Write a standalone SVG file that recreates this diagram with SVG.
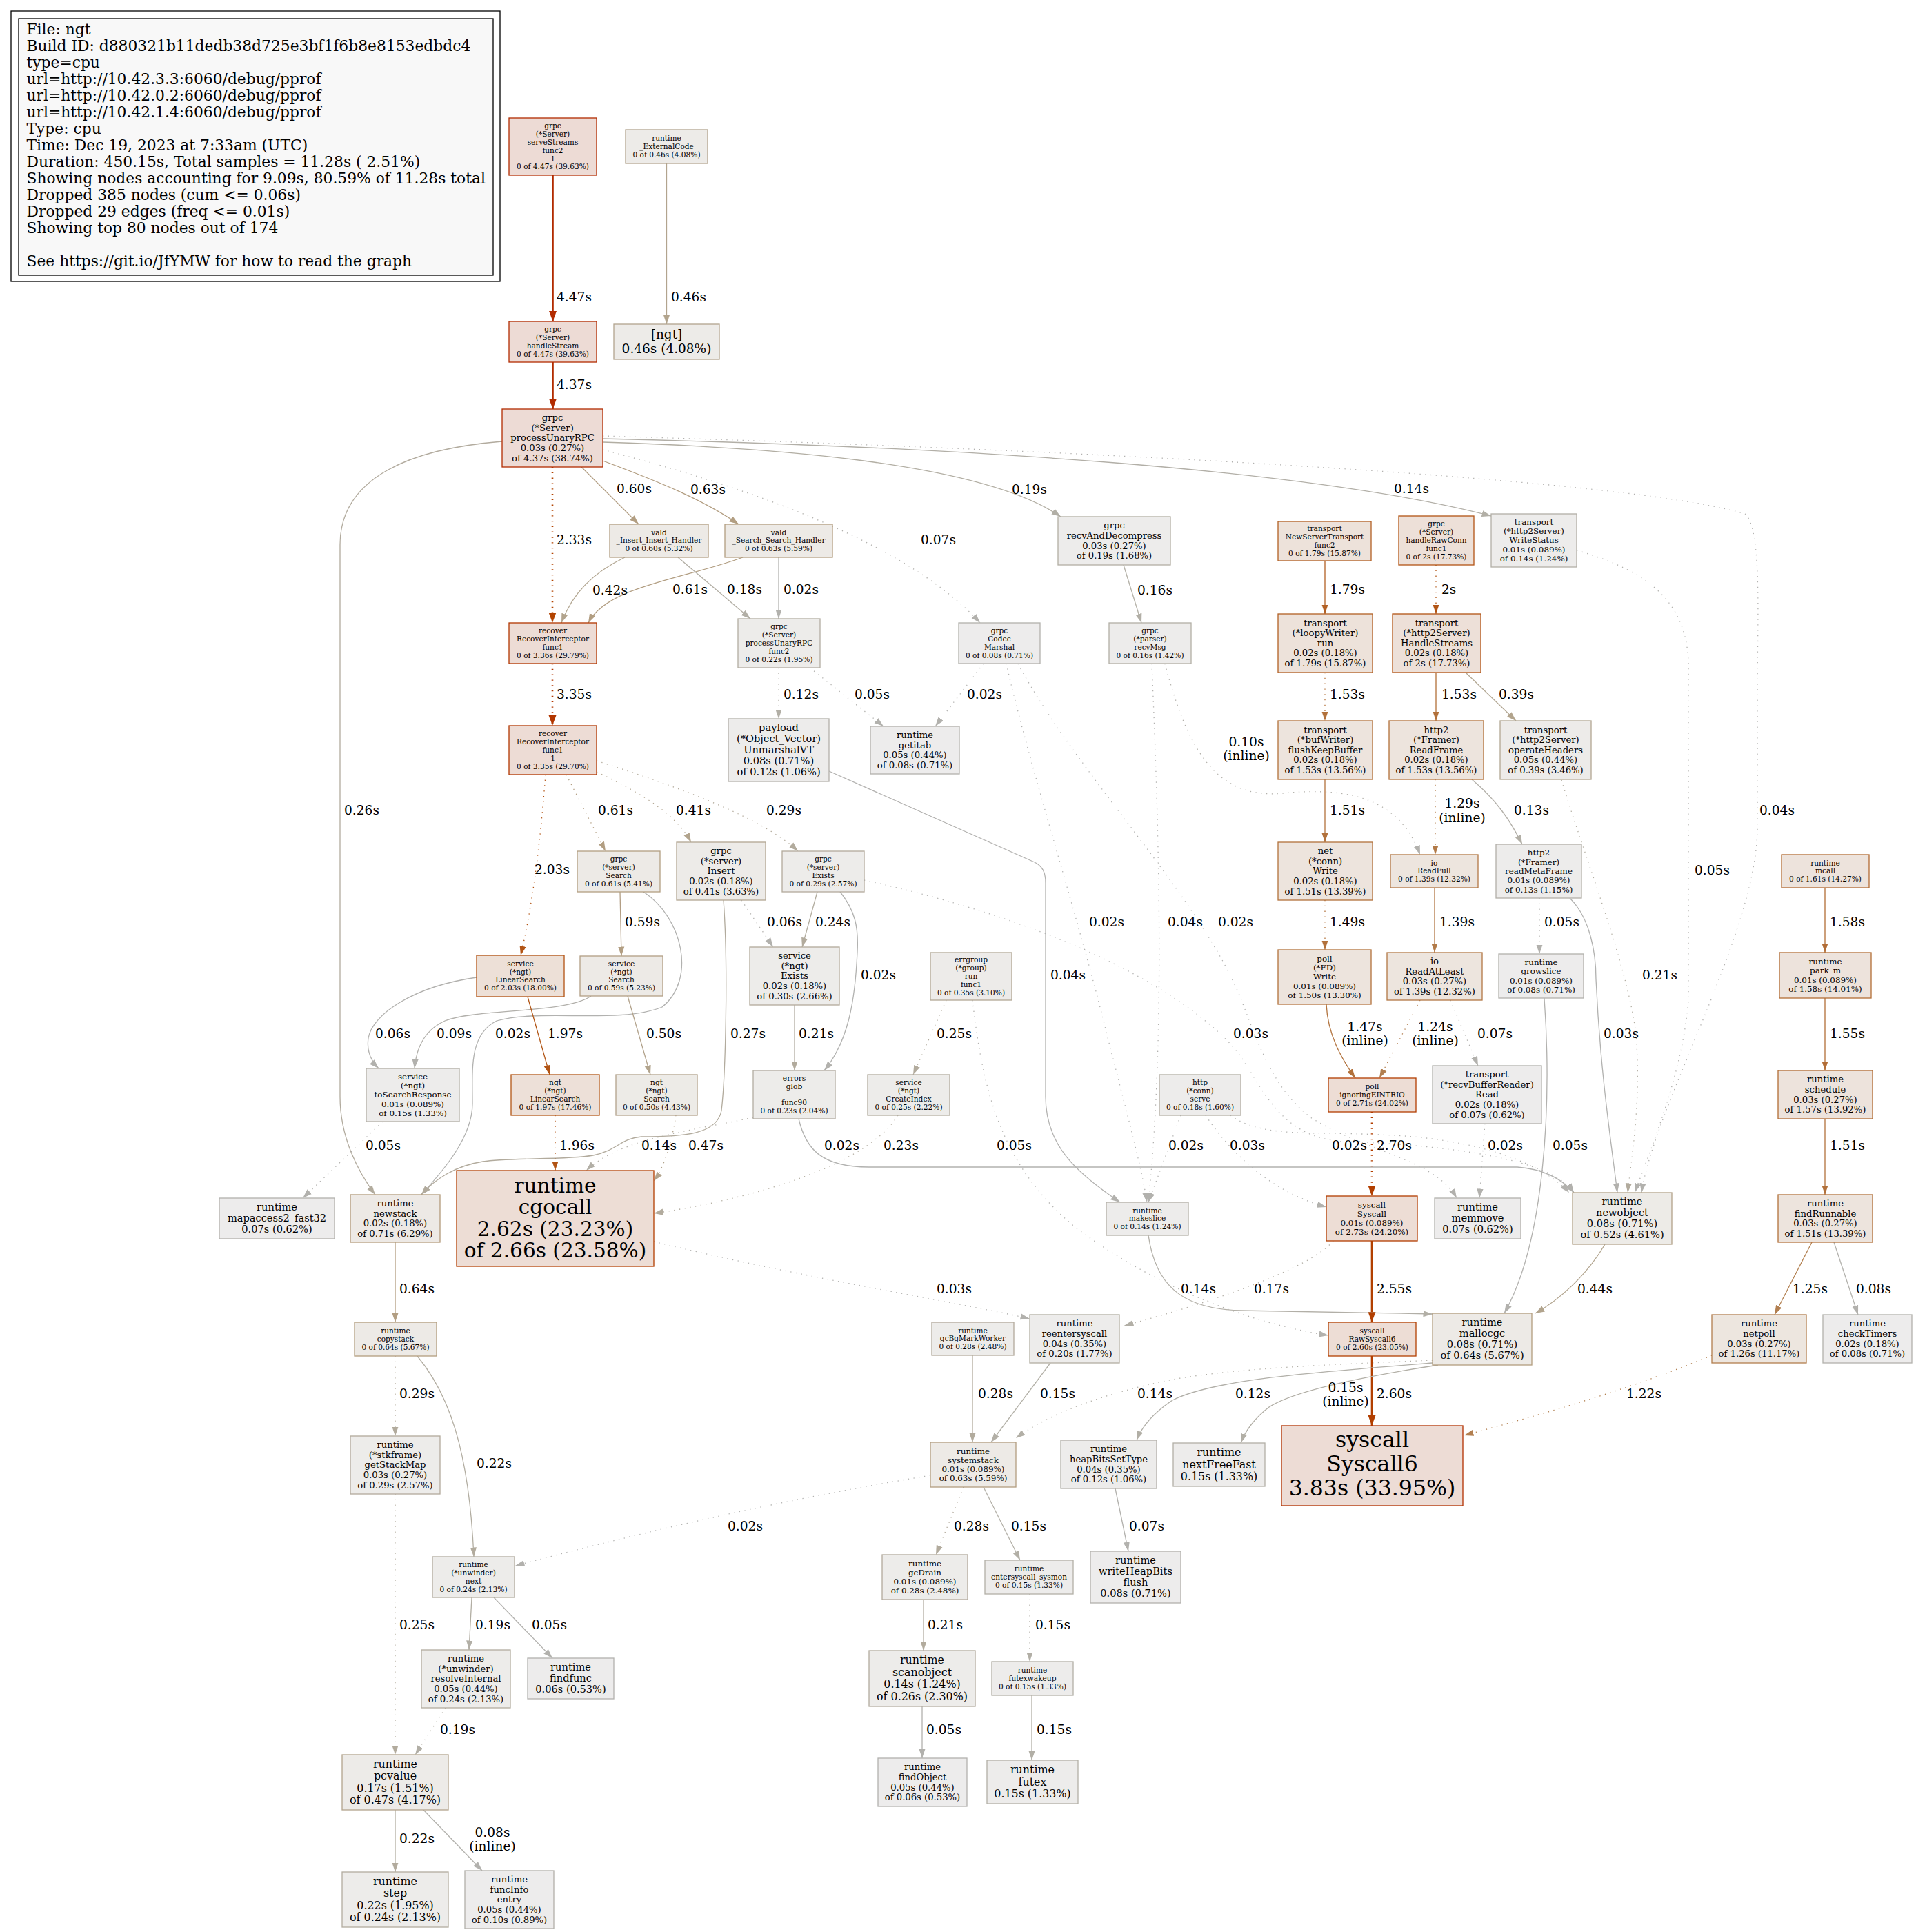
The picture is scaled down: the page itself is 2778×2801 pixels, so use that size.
<svg xmlns="http://www.w3.org/2000/svg" width="2778" height="2801" viewBox="0 0 2778 2801">
<style>
text{font-family:"DejaVu Serif","Liberation Serif",serif;fill:#000}
.node text{text-anchor:middle}
.node rect{stroke-width:1.3}
.f8{font-size:10.6px}.f9{font-size:11.9px}.f10{font-size:13.2px}.f11{font-size:14.6px}.f12{font-size:15.9px}.f14{font-size:18.5px}.f22{font-size:29.6px}.f24{font-size:31.6px}
.lg{font-size:21.8px}
.el{font-size:18.6px}
.mid{text-anchor:middle}
#edges path{fill:none;stroke-width:1.3}
#edges path.w{stroke-width:2.6}
#edges path.d{stroke-dasharray:1.3,6.5}
</style>
<defs>
<marker id="mA" markerUnits="userSpaceOnUse" markerWidth="16" markerHeight="12" viewBox="0 0 16 12" refX="15" refY="6" orient="auto"><path d="M0,0.5 L15,6 L0,11.5 z" fill="#b22b00"/></marker>
<marker id="mB" markerUnits="userSpaceOnUse" markerWidth="16" markerHeight="12" viewBox="0 0 16 12" refX="15" refY="6" orient="auto"><path d="M0,0.5 L15,6 L0,11.5 z" fill="#b23600"/></marker>
<marker id="mC" markerUnits="userSpaceOnUse" markerWidth="16" markerHeight="12" viewBox="0 0 16 12" refX="15" refY="6" orient="auto"><path d="M0,0.5 L15,6 L0,11.5 z" fill="#b23f00"/></marker>
<marker id="mD" markerUnits="userSpaceOnUse" markerWidth="16" markerHeight="12" viewBox="0 0 16 12" refX="15" refY="6" orient="auto"><path d="M0,0.5 L15,6 L0,11.5 z" fill="#b24300"/></marker>
<marker id="mE" markerUnits="userSpaceOnUse" markerWidth="14" markerHeight="10" viewBox="0 0 14 10" refX="13.5" refY="5" orient="auto"><path d="M0,0.4 L13.5,5 L0,9.6 z" fill="#b25414"/></marker>
<marker id="mF" markerUnits="userSpaceOnUse" markerWidth="14" markerHeight="10" viewBox="0 0 14 10" refX="13.5" refY="5" orient="auto"><path d="M0,0.4 L13.5,5 L0,9.6 z" fill="#b26024"/></marker>
<marker id="mG" markerUnits="userSpaceOnUse" markerWidth="14" markerHeight="10" viewBox="0 0 14 10" refX="13.5" refY="5" orient="auto"><path d="M0,0.4 L13.5,5 L0,9.6 z" fill="#b26d36"/></marker>
<marker id="mH" markerUnits="userSpaceOnUse" markerWidth="14" markerHeight="10" viewBox="0 0 14 10" refX="13.5" refY="5" orient="auto"><path d="M0,0.4 L13.5,5 L0,9.6 z" fill="#b2713b"/></marker>
<marker id="mI" markerUnits="userSpaceOnUse" markerWidth="14" markerHeight="10" viewBox="0 0 14 10" refX="13.5" refY="5" orient="auto"><path d="M0,0.4 L13.5,5 L0,9.6 z" fill="#b27a48"/></marker>
<marker id="mJ" markerUnits="userSpaceOnUse" markerWidth="14" markerHeight="10" viewBox="0 0 14 10" refX="13.5" refY="5" orient="auto"><path d="M0,0.4 L13.5,5 L0,9.6 z" fill="#b27f50"/></marker>
<marker id="mK" markerUnits="userSpaceOnUse" markerWidth="14" markerHeight="10" viewBox="0 0 14 10" refX="13.5" refY="5" orient="auto"><path d="M0,0.4 L13.5,5 L0,9.6 z" fill="#b29e82"/></marker>
<marker id="mL" markerUnits="userSpaceOnUse" markerWidth="14" markerHeight="10" viewBox="0 0 14 10" refX="13.5" refY="5" orient="auto"><path d="M0,0.4 L13.5,5 L0,9.6 z" fill="#b2a48d"/></marker>
<marker id="mM" markerUnits="userSpaceOnUse" markerWidth="14" markerHeight="10" viewBox="0 0 14 10" refX="13.5" refY="5" orient="auto"><path d="M0,0.4 L13.5,5 L0,9.6 z" fill="#b2ab9d"/></marker>
<marker id="mN" markerUnits="userSpaceOnUse" markerWidth="14" markerHeight="10" viewBox="0 0 14 10" refX="13.5" refY="5" orient="auto"><path d="M0,0.4 L13.5,5 L0,9.6 z" fill="#b2afa6"/></marker>
<marker id="mO" markerUnits="userSpaceOnUse" markerWidth="14" markerHeight="10" viewBox="0 0 14 10" refX="13.5" refY="5" orient="auto"><path d="M0,0.4 L13.5,5 L0,9.6 z" fill="#b2b1ad"/></marker>
</defs>
<rect x="0" y="0" width="2778" height="2801" fill="#fff"/>
<g id="legend">
<rect x="16" y="16" width="709" height="392" fill="none" stroke="#000" stroke-width="1.3"/>
<rect x="27" y="27" width="688" height="372" fill="#f8f8f8" stroke="#000" stroke-width="1.3"/>
<text class="lg" x="38.5" y="49.5"><tspan x="38.5">File: ngt</tspan><tspan x="38.5" dy="24.07">Build ID: d880321b11dedb38d725e3bf1f6b8e8153edbdc4</tspan><tspan x="38.5" dy="24.07">type=cpu</tspan><tspan x="38.5" dy="24.07">url=http://10.42.3.3:6060/debug/pprof</tspan><tspan x="38.5" dy="24.07">url=http://10.42.0.2:6060/debug/pprof</tspan><tspan x="38.5" dy="24.07">url=http://10.42.1.4:6060/debug/pprof</tspan><tspan x="38.5" dy="24.07">Type: cpu</tspan><tspan x="38.5" dy="24.07">Time: Dec 19, 2023 at 7:33am (UTC)</tspan><tspan x="38.5" dy="24.07">Duration: 450.15s, Total samples = 11.28s ( 2.51%)</tspan><tspan x="38.5" dy="24.07">Showing nodes accounting for 9.09s, 80.59% of 11.28s total</tspan><tspan x="38.5" dy="24.07">Dropped 385 nodes (cum &lt;= 0.06s)</tspan><tspan x="38.5" dy="24.07">Dropped 29 edges (freq &lt;= 0.01s)</tspan><tspan x="38.5" dy="24.07">Showing top 80 nodes out of 174</tspan><tspan x="38.5" dy="48.14">See https://git.io/JfYMW for how to read the graph</tspan></text>
</g>
<g id="edges">
<path class="w" d="M801.5,254 L801.5,466" stroke="#b22b00" marker-end="url(#mA)"/>
<path class="w" d="M801.5,525 L801.5,593" stroke="#b22c00" marker-end="url(#mA)"/>
<path d="M966.5,237 L966.5,470" stroke="#b2a48e" marker-end="url(#mL)"/>
<path class="w d" d="M801,677 L801,903" stroke="#b24300" marker-end="url(#mD)"/>
<path d="M843,677 L926,760" stroke="#b29e83" marker-end="url(#mK)"/>
<path d="M874,668 C960,700 1020,725 1071,760" stroke="#b29d80" marker-end="url(#mK)"/>
<path class="d" d="M874,652 C1020,690 1300,770 1421,903" stroke="#b2b1ad" marker-end="url(#mO)"/>
<path d="M874,641 C1100,648 1420,668 1538,749" stroke="#b2aea3" marker-end="url(#mN)"/>
<path d="M874,636 C1400,648 1900,680 2162,748" stroke="#b2afa7" marker-end="url(#mN)"/>
<path class="d" d="M874,632 C1500,650 2350,690 2530,745 C2555,765 2548,900 2548,1000 L2548,1200 C2548,1350 2400,1600 2380,1729" stroke="#b2b1af" marker-end="url(#mO)"/>
<path d="M728,640 C600,650 493,690 493,790 L493,1590 C493,1650 520,1700 544,1732" stroke="#b2ab9e" marker-end="url(#mM)"/>
<path d="M906,808 C860,830 830,860 814,903" stroke="#b2a691" marker-end="url(#mL)"/>
<path d="M1077,808 C990,840 880,850 853,903" stroke="#b29e82" marker-end="url(#mK)"/>
<path d="M983,808 L1088,897" stroke="#b2aea4" marker-end="url(#mN)"/>
<path d="M1129,808 L1129,897" stroke="#b2b2b0" marker-end="url(#mO)"/>
<path d="M1629,819 L1655,903" stroke="#b2afa5" marker-end="url(#mN)"/>
<path d="M1921,813 L1921,890" stroke="#b26024" marker-end="url(#mF)"/>
<path class="d" d="M2082,819 L2082,890" stroke="#b25414" marker-end="url(#mE)"/>
<path class="w d" d="M801,962 L801,1052" stroke="#b23600" marker-end="url(#mB)"/>
<path class="d" d="M1129,968 L1129,1042" stroke="#b2b0a9" marker-end="url(#mN)"/>
<path class="d" d="M1174,968 L1281,1053" stroke="#b2b1ae" marker-end="url(#mO)"/>
<path class="d" d="M1426,962 L1356,1053" stroke="#b2b2b0" marker-end="url(#mO)"/>
<path class="d" d="M1921,975 L1921,1045" stroke="#b27039" marker-end="url(#mH)"/>
<path d="M2082,975 L2082,1045" stroke="#b27039" marker-end="url(#mH)"/>
<path d="M2125,975 L2198,1045" stroke="#b2a793" marker-end="url(#mL)"/>
<path class="d" d="M1459,962 C1490,1100 1560,1320 1600,1480 C1630,1600 1655,1690 1663,1743" stroke="#b2b2b0" marker-end="url(#mO)"/>
<path class="d" d="M1476,962 C1560,1120 1740,1300 1800,1450 C1830,1530 1850,1580 1900,1620 C1980,1670 2080,1680 2112,1737" stroke="#b2b2b0" marker-end="url(#mO)"/>
<path class="d" d="M1670,962 C1680,1200 1690,1500 1665,1743" stroke="#b2b1af" marker-end="url(#mO)"/>
<path class="d" d="M1689,962 C1720,1080 1760,1160 1860,1150 C1960,1140 2030,1160 2059,1239" stroke="#b2b0aa" marker-end="url(#mO)"/>
<path d="M1202,1118 L1500,1250 C1512,1256 1516,1265 1516,1280 L1516,1590 C1516,1660 1560,1700 1624,1743" stroke="#b2b1af" marker-end="url(#mO)"/>
<path class="d" d="M791,1123 C785,1200 775,1300 755,1385" stroke="#b25211" marker-end="url(#mE)"/>
<path class="d" d="M821,1123 L878,1234" stroke="#b29e82" marker-end="url(#mK)"/>
<path class="d" d="M865,1119 C930,1150 980,1180 1002,1221" stroke="#b2a692" marker-end="url(#mL)"/>
<path class="d" d="M865,1103 C950,1130 1100,1180 1157,1234" stroke="#b2aa9b" marker-end="url(#mM)"/>
<path d="M899,1293 L901,1386" stroke="#b29e84" marker-end="url(#mK)"/>
<path d="M933,1293 C990,1330 1010,1420 960,1460 C900,1485 780,1462 720,1480 C680,1500 685,1550 685,1600 C685,1650 640,1700 611,1732" stroke="#b2b2b0" marker-end="url(#mO)"/>
<path d="M1049,1305 C1056,1400 1052,1560 1046,1610 C1040,1645 990,1648 930,1648 C900,1650 895,1668 860,1675 C820,1682 740,1678 700,1684 C660,1690 630,1710 611,1732" stroke="#b2ab9d" marker-end="url(#mM)"/>
<path class="d" d="M1075,1305 L1121,1373" stroke="#b2b1ae" marker-end="url(#mO)"/>
<path d="M1185,1293 L1163,1373" stroke="#b2ac9f" marker-end="url(#mM)"/>
<path d="M1218,1293 C1240,1320 1245,1345 1243,1380 C1240,1450 1230,1510 1195,1552" stroke="#b2b2b0" marker-end="url(#mO)"/>
<path class="d" d="M1253,1276 C1500,1330 1700,1420 1790,1520 C1830,1570 1850,1650 1950,1655 C2100,1660 2250,1680 2282,1729" stroke="#b2b2b0" marker-end="url(#mO)"/>
<path d="M857,1444 C820,1470 690,1462 645,1480 C612,1495 603,1525 601,1549" stroke="#b2b0ab" marker-end="url(#mO)"/>
<path d="M691,1417 C600,1430 540,1470 534,1505 C531,1525 540,1540 549,1549" stroke="#b2b1ae" marker-end="url(#mO)"/>
<path d="M765,1445 L797,1558" stroke="#b25616" marker-end="url(#mE)"/>
<path d="M910,1444 L943,1558" stroke="#b2a28b" marker-end="url(#mL)"/>
<path d="M1152,1457 L1152,1552" stroke="#b2ada1" marker-end="url(#mM)"/>
<path class="d" d="M1372,1450 L1324,1558" stroke="#b2ac9e" marker-end="url(#mM)"/>
<path class="d" d="M1410,1450 C1425,1580 1450,1690 1560,1780 C1680,1870 1820,1920 1926,1936" stroke="#b2b1ae" marker-end="url(#mO)"/>
<path class="d" d="M980,1617 C975,1650 965,1690 948,1712" stroke="#b2a48d" marker-end="url(#mL)"/>
<path class="d" d="M1092,1620 C1000,1640 900,1650 850,1697" stroke="#b2afa7" marker-end="url(#mN)"/>
<path class="d" d="M1302,1617 C1250,1700 1050,1745 948,1759" stroke="#b2ada0" marker-end="url(#mM)"/>
<path class="d" d="M805,1617 L805,1697" stroke="#b25617" marker-end="url(#mE)"/>
<path d="M1158,1622 C1168,1665 1190,1692 1260,1692 L2200,1692 C2240,1695 2265,1710 2282,1729" stroke="#b2b2b0" marker-end="url(#mO)"/>
<path class="d" d="M1712,1617 L1665,1743" stroke="#b2b2b0" marker-end="url(#mO)"/>
<path class="d" d="M1748,1617 C1790,1680 1850,1730 1923,1750" stroke="#b2b2b0" marker-end="url(#mO)"/>
<path class="d" d="M1784,1617 C1830,1650 1900,1640 2000,1645 C2150,1650 2240,1690 2275,1729" stroke="#b2b2b0" marker-end="url(#mO)"/>
<path class="d" d="M555,1626 L439,1737" stroke="#b2b1ae" marker-end="url(#mO)"/>
<path class="w d" d="M1989,1612 L1989,1734" stroke="#b23e00" marker-end="url(#mC)"/>
<path d="M1923,1456 C1925,1500 1945,1535 1965,1563" stroke="#b2733e" marker-end="url(#mH)"/>
<path class="d" d="M2059,1450 L2000,1563" stroke="#b27f50" marker-end="url(#mJ)"/>
<path class="d" d="M2103,1450 L2143,1545" stroke="#b2b1ad" marker-end="url(#mO)"/>
<path class="d" d="M1921,1305 L1921,1377" stroke="#b2723c" marker-end="url(#mH)"/>
<path class="d" d="M2081,1130 L2081,1239" stroke="#b27d4c" marker-end="url(#mI)"/>
<path d="M2134,1130 C2170,1160 2190,1190 2207,1224" stroke="#b2afa8" marker-end="url(#mN)"/>
<path d="M1921,1130 L1921,1221" stroke="#b2713b" marker-end="url(#mH)"/>
<path d="M2080,1287 L2080,1381" stroke="#b27744" marker-end="url(#mI)"/>
<path class="d" d="M2232,1302 L2232,1383" stroke="#b2b1ae" marker-end="url(#mO)"/>
<path d="M2276,1302 C2305,1330 2314,1380 2314,1420 C2320,1550 2335,1650 2345,1729" stroke="#b2b2b0" marker-end="url(#mO)"/>
<path class="d" d="M2286,798 C2400,830 2445,880 2448,960 L2448,1450 C2440,1550 2400,1650 2370,1729" stroke="#b2b1ae" marker-end="url(#mO)"/>
<path class="d" d="M2264,1131 C2300,1250 2360,1400 2372,1500 C2380,1600 2365,1680 2360,1729" stroke="#b2ada1" marker-end="url(#mM)"/>
<path d="M2646,1287 L2646,1381" stroke="#b26d35" marker-end="url(#mG)"/>
<path d="M2646,1447 L2646,1552" stroke="#b26e37" marker-end="url(#mG)"/>
<path d="M2646,1622 L2646,1732" stroke="#b2713b" marker-end="url(#mH)"/>
<path class="d" d="M2153,1629 L2145,1737" stroke="#b2b2b0" marker-end="url(#mO)"/>
<path d="M2239,1447 C2250,1600 2240,1800 2181,1904" stroke="#b2b1ae" marker-end="url(#mO)"/>
<path class="w" d="M1989,1799 L1989,1917" stroke="#b24000" marker-end="url(#mC)"/>
<path d="M2327,1804 C2300,1850 2260,1885 2226,1904" stroke="#b2a58f" marker-end="url(#mL)"/>
<path d="M2627,1801 L2573,1906" stroke="#b27f4f" marker-end="url(#mJ)"/>
<path d="M2659,1801 L2694,1906" stroke="#b2b1ac" marker-end="url(#mO)"/>
<path d="M1665,1791 C1675,1860 1710,1898 1800,1900 L2077,1905" stroke="#b2afa7" marker-end="url(#mN)"/>
<path class="d" d="M1933,1799 C1900,1840 1750,1890 1630,1922" stroke="#b2aea5" marker-end="url(#mN)"/>
<path class="d" d="M948,1800 C1150,1850 1400,1890 1493,1912" stroke="#b2b2b0" marker-end="url(#mO)"/>
<path class="w" d="M1989,1966 L1989,2067" stroke="#b23f00" marker-end="url(#mC)"/>
<path class="d" d="M2482,1965 C2350,2020 2200,2060 2123,2081" stroke="#b28051" marker-end="url(#mJ)"/>
<path d="M1410,1965 L1410,2091" stroke="#b2aa9c" marker-end="url(#mM)"/>
<path d="M1523,1976 L1437,2091" stroke="#b2afa6" marker-end="url(#mN)"/>
<path class="d" d="M2077,1972 C1950,1978 1800,1982 1700,2000 C1600,2020 1520,2050 1473,2085" stroke="#b2afa7" marker-end="url(#mN)"/>
<path d="M2077,1976 C1900,1990 1760,2000 1700,2030 C1670,2050 1655,2070 1648,2088" stroke="#b2b0a9" marker-end="url(#mN)"/>
<path d="M2085,1979 C1950,2000 1870,2020 1840,2040 C1820,2055 1805,2075 1799,2092" stroke="#b2afa6" marker-end="url(#mN)"/>
<path class="d" d="M1349,2139 C1100,2180 900,2230 747,2270" stroke="#b2b2b0" marker-end="url(#mO)"/>
<path class="d" d="M1397,2156 L1357,2254" stroke="#b2aa9c" marker-end="url(#mM)"/>
<path d="M1426,2156 L1479,2262" stroke="#b2afa6" marker-end="url(#mN)"/>
<path d="M1617,2158 L1636,2249" stroke="#b2b1ad" marker-end="url(#mO)"/>
<path d="M573,1801 L573,1917" stroke="#b29d7f" marker-end="url(#mK)"/>
<path class="d" d="M573,1966 L573,2082" stroke="#b2aa9b" marker-end="url(#mM)"/>
<path d="M605,1966 C650,2020 680,2100 687,2257" stroke="#b2ada1" marker-end="url(#mM)"/>
<path class="d" d="M573,2166 L573,2544" stroke="#b2ac9e" marker-end="url(#mM)"/>
<path d="M684,2316 L680,2392" stroke="#b2aea3" marker-end="url(#mN)"/>
<path d="M716,2316 L801,2404" stroke="#b2b1ae" marker-end="url(#mO)"/>
<path class="d" d="M646,2476 L602,2544" stroke="#b2aea3" marker-end="url(#mN)"/>
<path d="M1339,2319 L1339,2393" stroke="#b2ada1" marker-end="url(#mM)"/>
<path class="d" d="M1493,2311 L1493,2409" stroke="#b2afa6" marker-end="url(#mN)"/>
<path d="M573,2624 L573,2714" stroke="#b2ada1" marker-end="url(#mM)"/>
<path d="M614,2624 L699,2712" stroke="#b2b1ac" marker-end="url(#mO)"/>
<path d="M1337,2474 L1337,2549" stroke="#b2b1ae" marker-end="url(#mO)"/>
<path d="M1496,2458 L1496,2552" stroke="#b2afa6" marker-end="url(#mN)"/>
</g>
<g id="nodes">
<g id="n1" class="node"><rect x="738" y="171" width="127" height="83" fill="#eddbd5" stroke="#b22b00"/><text class="f8" x="801.5" y="186.4"><tspan x="801.5">grpc</tspan><tspan x="801.5" dy="11.8">(*Server)</tspan><tspan x="801.5" dy="11.8">serveStreams</tspan><tspan x="801.5" dy="11.8">func2</tspan><tspan x="801.5" dy="11.8">1</tspan><tspan x="801.5" dy="11.8">0 of 4.47s (39.63%)</tspan></text></g>
<g id="n2" class="node"><rect x="907" y="188" width="119" height="49" fill="#edebe8" stroke="#b2a48e"/><text class="f8" x="966.5" y="204.1"><tspan x="966.5">runtime</tspan><tspan x="966.5" dy="11.8">_ExternalCode</tspan><tspan x="966.5" dy="11.8">0 of 0.46s (4.08%)</tspan></text></g>
<g id="n3" class="node"><rect x="738" y="466" width="127" height="59" fill="#eddbd5" stroke="#b22b00"/><text class="f8" x="801.5" y="481.2"><tspan x="801.5">grpc</tspan><tspan x="801.5" dy="11.8">(*Server)</tspan><tspan x="801.5" dy="11.8">handleStream</tspan><tspan x="801.5" dy="11.8">0 of 4.47s (39.63%)</tspan></text></g>
<g id="n4" class="node"><rect x="890" y="470" width="153" height="51" fill="#edebe8" stroke="#b2a48e"/><text class="f14" x="966.5" y="491.4"><tspan x="966.5">[ngt]</tspan><tspan x="966.5" dy="20.2">0.46s (4.08%)</tspan></text></g>
<g id="n5" class="node"><rect x="728" y="593" width="146" height="84" fill="#eddbd5" stroke="#b22c00"/><text class="f10" x="801" y="610.1"><tspan x="801">grpc</tspan><tspan x="801" dy="14.6">(*Server)</tspan><tspan x="801" dy="14.6">processUnaryRPC</tspan><tspan x="801" dy="14.6">0.03s (0.27%)</tspan><tspan x="801" dy="14.6">of 4.37s (38.74%)</tspan></text></g>
<g id="n6" class="node"><rect x="884" y="760" width="143" height="48" fill="#edeae6" stroke="#b29e83"/><text class="f8" x="955.5" y="775.6"><tspan x="955.5">vald</tspan><tspan x="955.5" dy="11.8">_Insert_Insert_Handler</tspan><tspan x="955.5" dy="11.8">0 of 0.60s (5.32%)</tspan></text></g>
<g id="n7" class="node"><rect x="1051" y="760" width="156" height="48" fill="#edeae6" stroke="#b29d80"/><text class="f8" x="1129" y="775.6"><tspan x="1129">vald</tspan><tspan x="1129" dy="11.8">_Search_Search_Handler</tspan><tspan x="1129" dy="11.8">0 of 0.63s (5.59%)</tspan></text></g>
<g id="n8" class="node"><rect x="1534" y="749" width="163" height="70" fill="#edeceb" stroke="#b2aea3"/><text class="f10" x="1615.5" y="766.4"><tspan x="1615.5">grpc</tspan><tspan x="1615.5" dy="14.6">recvAndDecompress</tspan><tspan x="1615.5" dy="14.6">0.03s (0.27%)</tspan><tspan x="1615.5" dy="14.6">of 0.19s (1.68%)</tspan></text></g>
<g id="n9" class="node"><rect x="1853" y="756" width="135" height="57" fill="#ede2da" stroke="#b26024"/><text class="f8" x="1920.5" y="770.2"><tspan x="1920.5">transport</tspan><tspan x="1920.5" dy="11.8">NewServerTransport</tspan><tspan x="1920.5" dy="11.8">func2</tspan><tspan x="1920.5" dy="11.8">0 of 1.79s (15.87%)</tspan></text></g>
<g id="n10" class="node"><rect x="2028" y="748" width="109" height="71" fill="#ede0d8" stroke="#b25414"/><text class="f8" x="2082.5" y="763.3"><tspan x="2082.5">grpc</tspan><tspan x="2082.5" dy="11.8">(*Server)</tspan><tspan x="2082.5" dy="11.8">handleRawConn</tspan><tspan x="2082.5" dy="11.8">func1</tspan><tspan x="2082.5" dy="11.8">0 of 2s (17.73%)</tspan></text></g>
<g id="n11" class="node"><rect x="2162" y="745" width="124" height="77" fill="#edeceb" stroke="#b2afa7"/><text class="f9" x="2224" y="760.8"><tspan x="2224">transport</tspan><tspan x="2224" dy="13.3">(*http2Server)</tspan><tspan x="2224" dy="13.3">WriteStatus</tspan><tspan x="2224" dy="13.3">0.01s (0.089%)</tspan><tspan x="2224" dy="13.3">of 0.14s (1.24%)</tspan></text></g>
<g id="n12" class="node"><rect x="738" y="903" width="127" height="59" fill="#eddcd5" stroke="#b23600"/><text class="f8" x="801.5" y="918.2"><tspan x="801.5">recover</tspan><tspan x="801.5" dy="11.8">RecoverInterceptor</tspan><tspan x="801.5" dy="11.8">func1</tspan><tspan x="801.5" dy="11.8">0 of 3.36s (29.79%)</tspan></text></g>
<g id="n13" class="node"><rect x="1070" y="897" width="119" height="71" fill="#edecea" stroke="#b2ada1"/><text class="f8" x="1129.5" y="912.3"><tspan x="1129.5">grpc</tspan><tspan x="1129.5" dy="11.8">(*Server)</tspan><tspan x="1129.5" dy="11.8">processUnaryRPC</tspan><tspan x="1129.5" dy="11.8">func2</tspan><tspan x="1129.5" dy="11.8">0 of 0.22s (1.95%)</tspan></text></g>
<g id="n14" class="node"><rect x="1390" y="903" width="118" height="59" fill="#edecec" stroke="#b2b1ac"/><text class="f8" x="1449" y="918.2"><tspan x="1449">grpc</tspan><tspan x="1449" dy="11.8">Codec</tspan><tspan x="1449" dy="11.8">Marshal</tspan><tspan x="1449" dy="11.8">0 of 0.08s (0.71%)</tspan></text></g>
<g id="n15" class="node"><rect x="1608" y="903" width="119" height="59" fill="#edeceb" stroke="#b2afa5"/><text class="f8" x="1667.5" y="918.2"><tspan x="1667.5">grpc</tspan><tspan x="1667.5" dy="11.8">(*parser)</tspan><tspan x="1667.5" dy="11.8">recvMsg</tspan><tspan x="1667.5" dy="11.8">0 of 0.16s (1.42%)</tspan></text></g>
<g id="n16" class="node"><rect x="1853" y="890" width="137" height="85" fill="#ede2da" stroke="#b26024"/><text class="f10" x="1921.5" y="907.6"><tspan x="1921.5">transport</tspan><tspan x="1921.5" dy="14.6">(*loopyWriter)</tspan><tspan x="1921.5" dy="14.6">run</tspan><tspan x="1921.5" dy="14.6">0.02s (0.18%)</tspan><tspan x="1921.5" dy="14.6">of 1.79s (15.87%)</tspan></text></g>
<g id="n17" class="node"><rect x="2019" y="890" width="128" height="85" fill="#ede0d8" stroke="#b25414"/><text class="f10" x="2083" y="907.6"><tspan x="2083">transport</tspan><tspan x="2083" dy="14.6">(*http2Server)</tspan><tspan x="2083" dy="14.6">HandleStreams</tspan><tspan x="2083" dy="14.6">0.02s (0.18%)</tspan><tspan x="2083" dy="14.6">of 2s (17.73%)</tspan></text></g>
<g id="n18" class="node"><rect x="1056" y="1042" width="146" height="91" fill="#edeceb" stroke="#b2b0a9"/><text class="f11" x="1129" y="1060.2"><tspan x="1129">payload</tspan><tspan x="1129" dy="16">(*Object_Vector)</tspan><tspan x="1129" dy="16">UnmarshalVT</tspan><tspan x="1129" dy="16">0.08s (0.71%)</tspan><tspan x="1129" dy="16">of 0.12s (1.06%)</tspan></text></g>
<g id="n19" class="node"><rect x="1262" y="1053" width="129" height="69" fill="#edecec" stroke="#b2b1ac"/><text class="f10" x="1326.5" y="1069.9"><tspan x="1326.5">runtime</tspan><tspan x="1326.5" dy="14.6">getitab</tspan><tspan x="1326.5" dy="14.6">0.05s (0.44%)</tspan><tspan x="1326.5" dy="14.6">of 0.08s (0.71%)</tspan></text></g>
<g id="n20" class="node"><rect x="1853" y="1045" width="137" height="85" fill="#ede4dd" stroke="#b27039"/><text class="f10" x="1921.5" y="1062.6"><tspan x="1921.5">transport</tspan><tspan x="1921.5" dy="14.6">(*bufWriter)</tspan><tspan x="1921.5" dy="14.6">flushKeepBuffer</tspan><tspan x="1921.5" dy="14.6">0.02s (0.18%)</tspan><tspan x="1921.5" dy="14.6">of 1.53s (13.56%)</tspan></text></g>
<g id="n21" class="node"><rect x="2014" y="1045" width="137" height="85" fill="#ede4dd" stroke="#b27039"/><text class="f10" x="2082.5" y="1062.6"><tspan x="2082.5">http2</tspan><tspan x="2082.5" dy="14.6">(*Framer)</tspan><tspan x="2082.5" dy="14.6">ReadFrame</tspan><tspan x="2082.5" dy="14.6">0.02s (0.18%)</tspan><tspan x="2082.5" dy="14.6">of 1.53s (13.56%)</tspan></text></g>
<g id="n22" class="node"><rect x="2175" y="1045" width="132" height="85" fill="#edebe9" stroke="#b2a793"/><text class="f10" x="2241" y="1062.6"><tspan x="2241">transport</tspan><tspan x="2241" dy="14.6">(*http2Server)</tspan><tspan x="2241" dy="14.6">operateHeaders</tspan><tspan x="2241" dy="14.6">0.05s (0.44%)</tspan><tspan x="2241" dy="14.6">of 0.39s (3.46%)</tspan></text></g>
<g id="n23" class="node"><rect x="738" y="1052" width="127" height="71" fill="#eddcd5" stroke="#b23600"/><text class="f8" x="801.5" y="1067.3"><tspan x="801.5">recover</tspan><tspan x="801.5" dy="11.8">RecoverInterceptor</tspan><tspan x="801.5" dy="11.8">func1</tspan><tspan x="801.5" dy="11.8">1</tspan><tspan x="801.5" dy="11.8">0 of 3.35s (29.70%)</tspan></text></g>
<g id="n24" class="node"><rect x="1853" y="1221" width="137" height="84" fill="#ede4dd" stroke="#b2713b"/><text class="f10" x="1921.5" y="1238.1"><tspan x="1921.5">net</tspan><tspan x="1921.5" dy="14.6">(*conn)</tspan><tspan x="1921.5" dy="14.6">Write</tspan><tspan x="1921.5" dy="14.6">0.02s (0.18%)</tspan><tspan x="1921.5" dy="14.6">of 1.51s (13.39%)</tspan></text></g>
<g id="n25" class="node"><rect x="2016" y="1239" width="127" height="48" fill="#ede5de" stroke="#b27744"/><text class="f8" x="2079.5" y="1254.6"><tspan x="2079.5">io</tspan><tspan x="2079.5" dy="11.8">ReadFull</tspan><tspan x="2079.5" dy="11.8">0 of 1.39s (12.32%)</tspan></text></g>
<g id="n26" class="node"><rect x="2169" y="1224" width="124" height="78" fill="#edeceb" stroke="#b2afa8"/><text class="f9" x="2231" y="1240.3"><tspan x="2231">http2</tspan><tspan x="2231" dy="13.3">(*Framer)</tspan><tspan x="2231" dy="13.3">readMetaFrame</tspan><tspan x="2231" dy="13.3">0.01s (0.089%)</tspan><tspan x="2231" dy="13.3">of 0.13s (1.15%)</tspan></text></g>
<g id="n27" class="node"><rect x="2583" y="1239" width="127" height="48" fill="#ede3dc" stroke="#b26b33"/><text class="f8" x="2646.5" y="1254.6"><tspan x="2646.5">runtime</tspan><tspan x="2646.5" dy="11.8">mcall</tspan><tspan x="2646.5" dy="11.8">0 of 1.61s (14.27%)</tspan></text></g>
<g id="n28" class="node"><rect x="837" y="1234" width="120" height="59" fill="#edeae6" stroke="#b29e82"/><text class="f8" x="897" y="1249.2"><tspan x="897">grpc</tspan><tspan x="897" dy="11.8">(*server)</tspan><tspan x="897" dy="11.8">Search</tspan><tspan x="897" dy="11.8">0 of 0.61s (5.41%)</tspan></text></g>
<g id="n29" class="node"><rect x="981" y="1221" width="129" height="84" fill="#edebe8" stroke="#b2a692"/><text class="f10" x="1045.5" y="1238.1"><tspan x="1045.5">grpc</tspan><tspan x="1045.5" dy="14.6">(*server)</tspan><tspan x="1045.5" dy="14.6">Insert</tspan><tspan x="1045.5" dy="14.6">0.02s (0.18%)</tspan><tspan x="1045.5" dy="14.6">of 0.41s (3.63%)</tspan></text></g>
<g id="n30" class="node"><rect x="1134" y="1234" width="119" height="59" fill="#edecea" stroke="#b2aa9b"/><text class="f8" x="1193.5" y="1249.2"><tspan x="1193.5">grpc</tspan><tspan x="1193.5" dy="11.8">(*server)</tspan><tspan x="1193.5" dy="11.8">Exists</tspan><tspan x="1193.5" dy="11.8">0 of 0.29s (2.57%)</tspan></text></g>
<g id="n31" class="node"><rect x="691" y="1385" width="127" height="60" fill="#ede0d7" stroke="#b25211"/><text class="f8" x="754.5" y="1400.7"><tspan x="754.5">service</tspan><tspan x="754.5" dy="11.8">(*ngt)</tspan><tspan x="754.5" dy="11.8">LinearSearch</tspan><tspan x="754.5" dy="11.8">0 of 2.03s (18.00%)</tspan></text></g>
<g id="n32" class="node"><rect x="841" y="1386" width="120" height="58" fill="#edeae6" stroke="#b29e84"/><text class="f8" x="901" y="1400.7"><tspan x="901">service</tspan><tspan x="901" dy="11.8">(*ngt)</tspan><tspan x="901" dy="11.8">Search</tspan><tspan x="901" dy="11.8">0 of 0.59s (5.23%)</tspan></text></g>
<g id="n33" class="node"><rect x="1087" y="1373" width="130" height="84" fill="#edecea" stroke="#b2aa9a"/><text class="f10" x="1152" y="1390.1"><tspan x="1152">service</tspan><tspan x="1152" dy="14.6">(*ngt)</tspan><tspan x="1152" dy="14.6">Exists</tspan><tspan x="1152" dy="14.6">0.02s (0.18%)</tspan><tspan x="1152" dy="14.6">of 0.30s (2.66%)</tspan></text></g>
<g id="n34" class="node"><rect x="1349" y="1381" width="118" height="69" fill="#edebe9" stroke="#b2a896"/><text class="f8" x="1408" y="1395.3"><tspan x="1408">errgroup</tspan><tspan x="1408" dy="11.8">(*group)</tspan><tspan x="1408" dy="11.8">run</tspan><tspan x="1408" dy="11.8">func1</tspan><tspan x="1408" dy="11.8">0 of 0.35s (3.10%)</tspan></text></g>
<g id="n35" class="node"><rect x="1853" y="1377" width="135" height="79" fill="#ede4dd" stroke="#b2713b"/><text class="f9" x="1920.5" y="1393.8"><tspan x="1920.5">poll</tspan><tspan x="1920.5" dy="13.3">(*FD)</tspan><tspan x="1920.5" dy="13.3">Write</tspan><tspan x="1920.5" dy="13.3">0.01s (0.089%)</tspan><tspan x="1920.5" dy="13.3">of 1.50s (13.30%)</tspan></text></g>
<g id="n36" class="node"><rect x="2011" y="1381" width="138" height="69" fill="#ede5de" stroke="#b27744"/><text class="f10" x="2080" y="1397.9"><tspan x="2080">io</tspan><tspan x="2080" dy="14.6">ReadAtLeast</tspan><tspan x="2080" dy="14.6">0.03s (0.27%)</tspan><tspan x="2080" dy="14.6">of 1.39s (12.32%)</tspan></text></g>
<g id="n37" class="node"><rect x="2173" y="1383" width="123" height="64" fill="#edecec" stroke="#b2b1ac"/><text class="f9" x="2234.5" y="1399"><tspan x="2234.5">runtime</tspan><tspan x="2234.5" dy="13.3">growslice</tspan><tspan x="2234.5" dy="13.3">0.01s (0.089%)</tspan><tspan x="2234.5" dy="13.3">of 0.08s (0.71%)</tspan></text></g>
<g id="n38" class="node"><rect x="2580" y="1381" width="133" height="66" fill="#ede3dc" stroke="#b26d35"/><text class="f9" x="2646.5" y="1398"><tspan x="2646.5">runtime</tspan><tspan x="2646.5" dy="13.3">park_m</tspan><tspan x="2646.5" dy="13.3">0.01s (0.089%)</tspan><tspan x="2646.5" dy="13.3">of 1.58s (14.01%)</tspan></text></g>
<g id="n39" class="node"><rect x="531" y="1549" width="135" height="77" fill="#edeceb" stroke="#b2afa6"/><text class="f9" x="598.5" y="1564.8"><tspan x="598.5">service</tspan><tspan x="598.5" dy="13.3">(*ngt)</tspan><tspan x="598.5" dy="13.3">toSearchResponse</tspan><tspan x="598.5" dy="13.3">0.01s (0.089%)</tspan><tspan x="598.5" dy="13.3">of 0.15s (1.33%)</tspan></text></g>
<g id="n40" class="node"><rect x="741" y="1558" width="128" height="59" fill="#ede0d8" stroke="#b25616"/><text class="f8" x="805" y="1573.2"><tspan x="805">ngt</tspan><tspan x="805" dy="11.8">(*ngt)</tspan><tspan x="805" dy="11.8">LinearSearch</tspan><tspan x="805" dy="11.8">0 of 1.97s (17.46%)</tspan></text></g>
<g id="n41" class="node"><rect x="893" y="1558" width="118" height="59" fill="#edebe7" stroke="#b2a28b"/><text class="f8" x="952" y="1573.2"><tspan x="952">ngt</tspan><tspan x="952" dy="11.8">(*ngt)</tspan><tspan x="952" dy="11.8">Search</tspan><tspan x="952" dy="11.8">0 of 0.50s (4.43%)</tspan></text></g>
<g id="n42" class="node"><rect x="1092" y="1552" width="119" height="70" fill="#edecea" stroke="#b2ada1"/><text class="f8" x="1151.5" y="1566.8"><tspan x="1151.5">errors</tspan><tspan x="1151.5" dy="11.8">glob</tspan><tspan x="1151.5" dy="23.6">func90</tspan><tspan x="1151.5" dy="11.8">0 of 0.23s (2.04%)</tspan></text></g>
<g id="n43" class="node"><rect x="1258" y="1558" width="119" height="59" fill="#edecea" stroke="#b2ac9e"/><text class="f8" x="1317.5" y="1573.2"><tspan x="1317.5">service</tspan><tspan x="1317.5" dy="11.8">(*ngt)</tspan><tspan x="1317.5" dy="11.8">CreateIndex</tspan><tspan x="1317.5" dy="11.8">0 of 0.25s (2.22%)</tspan></text></g>
<g id="n44" class="node"><rect x="1681" y="1558" width="118" height="59" fill="#edeceb" stroke="#b2aea4"/><text class="f8" x="1740" y="1573.2"><tspan x="1740">http</tspan><tspan x="1740" dy="11.8">(*conn)</tspan><tspan x="1740" dy="11.8">serve</tspan><tspan x="1740" dy="11.8">0 of 0.18s (1.60%)</tspan></text></g>
<g id="n45" class="node"><rect x="1926" y="1563" width="127" height="49" fill="#edddd5" stroke="#b23d00"/><text class="f8" x="1989.5" y="1579.1"><tspan x="1989.5">poll</tspan><tspan x="1989.5" dy="11.8">ignoringEINTRIO</tspan><tspan x="1989.5" dy="11.8">0 of 2.71s (24.02%)</tspan></text></g>
<g id="n46" class="node"><rect x="2077" y="1545" width="158" height="84" fill="#edecec" stroke="#b2b1ad"/><text class="f10" x="2156" y="1562.1"><tspan x="2156">transport</tspan><tspan x="2156" dy="14.6">(*recvBufferReader)</tspan><tspan x="2156" dy="14.6">Read</tspan><tspan x="2156" dy="14.6">0.02s (0.18%)</tspan><tspan x="2156" dy="14.6">of 0.07s (0.62%)</tspan></text></g>
<g id="n47" class="node"><rect x="2578" y="1552" width="137" height="70" fill="#ede3dc" stroke="#b26d35"/><text class="f10" x="2646.5" y="1569.4"><tspan x="2646.5">runtime</tspan><tspan x="2646.5" dy="14.6">schedule</tspan><tspan x="2646.5" dy="14.6">0.03s (0.27%)</tspan><tspan x="2646.5" dy="14.6">of 1.57s (13.92%)</tspan></text></g>
<g id="n48" class="node"><rect x="662" y="1697" width="286" height="139" fill="#edddd5" stroke="#b23e00"/><text class="f22" x="805" y="1728.6"><tspan x="805">runtime</tspan><tspan x="805" dy="31.5">cgocall</tspan><tspan x="805" dy="31.5">2.62s (23.23%)</tspan><tspan x="805" dy="31.5">of 2.66s (23.58%)</tspan></text></g>
<g id="n49" class="node"><rect x="318" y="1737" width="167" height="59" fill="#edecec" stroke="#b2b1ad"/><text class="f11" x="401.5" y="1755.2"><tspan x="401.5">runtime</tspan><tspan x="401.5" dy="16">mapaccess2_fast32</tspan><tspan x="401.5" dy="16">0.07s (0.62%)</tspan></text></g>
<g id="n50" class="node"><rect x="508" y="1732" width="130" height="69" fill="#ede9e5" stroke="#b29a7a"/><text class="f10" x="573" y="1748.9"><tspan x="573">runtime</tspan><tspan x="573" dy="14.6">newstack</tspan><tspan x="573" dy="14.6">0.02s (0.18%)</tspan><tspan x="573" dy="14.6">of 0.71s (6.29%)</tspan></text></g>
<g id="n51" class="node"><rect x="1604" y="1743" width="119" height="48" fill="#edeceb" stroke="#b2afa7"/><text class="f8" x="1663.5" y="1758.6"><tspan x="1663.5">runtime</tspan><tspan x="1663.5" dy="11.8">makeslice</tspan><tspan x="1663.5" dy="11.8">0 of 0.14s (1.24%)</tspan></text></g>
<g id="n52" class="node"><rect x="1923" y="1734" width="132" height="65" fill="#edddd5" stroke="#b23d00"/><text class="f9" x="1989" y="1750.5"><tspan x="1989">syscall</tspan><tspan x="1989" dy="13.3">Syscall</tspan><tspan x="1989" dy="13.3">0.01s (0.089%)</tspan><tspan x="1989" dy="13.3">of 2.73s (24.20%)</tspan></text></g>
<g id="n53" class="node"><rect x="2080" y="1737" width="125" height="59" fill="#edecec" stroke="#b2b1ad"/><text class="f11" x="2142.5" y="1755.2"><tspan x="2142.5">runtime</tspan><tspan x="2142.5" dy="16">memmove</tspan><tspan x="2142.5" dy="16">0.07s (0.62%)</tspan></text></g>
<g id="n54" class="node"><rect x="2280" y="1729" width="144" height="75" fill="#edebe7" stroke="#b2a289"/><text class="f11" x="2352" y="1747.2"><tspan x="2352">runtime</tspan><tspan x="2352" dy="16">newobject</tspan><tspan x="2352" dy="16">0.08s (0.71%)</tspan><tspan x="2352" dy="16">of 0.52s (4.61%)</tspan></text></g>
<g id="n55" class="node"><rect x="2578" y="1732" width="137" height="69" fill="#ede4dd" stroke="#b2713b"/><text class="f10" x="2646.5" y="1748.9"><tspan x="2646.5">runtime</tspan><tspan x="2646.5" dy="14.6">findRunnable</tspan><tspan x="2646.5" dy="14.6">0.03s (0.27%)</tspan><tspan x="2646.5" dy="14.6">of 1.51s (13.39%)</tspan></text></g>
<g id="n56" class="node"><rect x="514" y="1917" width="119" height="49" fill="#edeae6" stroke="#b29d7f"/><text class="f8" x="573.5" y="1933.1"><tspan x="573.5">runtime</tspan><tspan x="573.5" dy="11.8">copystack</tspan><tspan x="573.5" dy="11.8">0 of 0.64s (5.67%)</tspan></text></g>
<g id="n57" class="node"><rect x="1351" y="1917" width="119" height="48" fill="#edecea" stroke="#b2aa9c"/><text class="f8" x="1410.5" y="1932.6"><tspan x="1410.5">runtime</tspan><tspan x="1410.5" dy="11.8">gcBgMarkWorker</tspan><tspan x="1410.5" dy="11.8">0 of 0.28s (2.48%)</tspan></text></g>
<g id="n58" class="node"><rect x="1493" y="1906" width="130" height="70" fill="#edeceb" stroke="#b2aea2"/><text class="f10" x="1558" y="1923.4"><tspan x="1558">runtime</tspan><tspan x="1558" dy="14.6">reentersyscall</tspan><tspan x="1558" dy="14.6">0.04s (0.35%)</tspan><tspan x="1558" dy="14.6">of 0.20s (1.77%)</tspan></text></g>
<g id="n59" class="node"><rect x="1926" y="1917" width="127" height="49" fill="#edddd5" stroke="#b23f00"/><text class="f8" x="1989.5" y="1933.1"><tspan x="1989.5">syscall</tspan><tspan x="1989.5" dy="11.8">RawSyscall6</tspan><tspan x="1989.5" dy="11.8">0 of 2.60s (23.05%)</tspan></text></g>
<g id="n60" class="node"><rect x="2077" y="1904" width="144" height="75" fill="#edeae6" stroke="#b29d7f"/><text class="f11" x="2149" y="1922.2"><tspan x="2149">runtime</tspan><tspan x="2149" dy="16">mallocgc</tspan><tspan x="2149" dy="16">0.08s (0.71%)</tspan><tspan x="2149" dy="16">of 0.64s (5.67%)</tspan></text></g>
<g id="n61" class="node"><rect x="2482" y="1906" width="137" height="70" fill="#ede6df" stroke="#b27e4e"/><text class="f10" x="2550.5" y="1923.4"><tspan x="2550.5">runtime</tspan><tspan x="2550.5" dy="14.6">netpoll</tspan><tspan x="2550.5" dy="14.6">0.03s (0.27%)</tspan><tspan x="2550.5" dy="14.6">of 1.26s (11.17%)</tspan></text></g>
<g id="n62" class="node"><rect x="2643" y="1906" width="129" height="70" fill="#edecec" stroke="#b2b1ac"/><text class="f10" x="2707.5" y="1923.4"><tspan x="2707.5">runtime</tspan><tspan x="2707.5" dy="14.6">checkTimers</tspan><tspan x="2707.5" dy="14.6">0.02s (0.18%)</tspan><tspan x="2707.5" dy="14.6">of 0.08s (0.71%)</tspan></text></g>
<g id="n63" class="node"><rect x="1858" y="2067" width="263" height="116" fill="#eddcd5" stroke="#b23100"/><text class="f24" x="1989.5" y="2098"><tspan x="1989.5">syscall</tspan><tspan x="1989.5" dy="35">Syscall6</tspan><tspan x="1989.5" dy="35">3.83s (33.95%)</tspan></text></g>
<g id="n64" class="node"><rect x="1349" y="2091" width="124" height="65" fill="#edeae6" stroke="#b29d80"/><text class="f9" x="1411" y="2107.5"><tspan x="1411">runtime</tspan><tspan x="1411" dy="13.3">systemstack</tspan><tspan x="1411" dy="13.3">0.01s (0.089%)</tspan><tspan x="1411" dy="13.3">of 0.63s (5.59%)</tspan></text></g>
<g id="n65" class="node"><rect x="1538" y="2088" width="139" height="70" fill="#edeceb" stroke="#b2b0a9"/><text class="f10" x="1607.5" y="2105.4"><tspan x="1607.5">runtime</tspan><tspan x="1607.5" dy="14.6">heapBitsSetType</tspan><tspan x="1607.5" dy="14.6">0.04s (0.35%)</tspan><tspan x="1607.5" dy="14.6">of 0.12s (1.06%)</tspan></text></g>
<g id="n66" class="node"><rect x="1701" y="2092" width="133" height="63" fill="#edeceb" stroke="#b2afa6"/><text class="f12" x="1767.5" y="2111.1"><tspan x="1767.5">runtime</tspan><tspan x="1767.5" dy="17.5">nextFreeFast</tspan><tspan x="1767.5" dy="17.5">0.15s (1.33%)</tspan></text></g>
<g id="n67" class="node"><rect x="508" y="2082" width="130" height="84" fill="#edecea" stroke="#b2aa9b"/><text class="f10" x="573" y="2099.1"><tspan x="573">runtime</tspan><tspan x="573" dy="14.6">(*stkframe)</tspan><tspan x="573" dy="14.6">getStackMap</tspan><tspan x="573" dy="14.6">0.03s (0.27%)</tspan><tspan x="573" dy="14.6">of 0.29s (2.57%)</tspan></text></g>
<g id="n68" class="node"><rect x="627" y="2257" width="119" height="59" fill="#edecea" stroke="#b2ac9f"/><text class="f8" x="686.5" y="2272.2"><tspan x="686.5">runtime</tspan><tspan x="686.5" dy="11.8">(*unwinder)</tspan><tspan x="686.5" dy="11.8">next</tspan><tspan x="686.5" dy="11.8">0 of 0.24s (2.13%)</tspan></text></g>
<g id="n69" class="node"><rect x="1279" y="2254" width="124" height="65" fill="#edecea" stroke="#b2aa9c"/><text class="f9" x="1341" y="2270.5"><tspan x="1341">runtime</tspan><tspan x="1341" dy="13.3">gcDrain</tspan><tspan x="1341" dy="13.3">0.01s (0.089%)</tspan><tspan x="1341" dy="13.3">of 0.28s (2.48%)</tspan></text></g>
<g id="n70" class="node"><rect x="1428" y="2262" width="128" height="49" fill="#edeceb" stroke="#b2afa6"/><text class="f8" x="1492" y="2278.1"><tspan x="1492">runtime</tspan><tspan x="1492" dy="11.8">entersyscall_sysmon</tspan><tspan x="1492" dy="11.8">0 of 0.15s (1.33%)</tspan></text></g>
<g id="n71" class="node"><rect x="1581" y="2249" width="131" height="75" fill="#edecec" stroke="#b2b1ac"/><text class="f11" x="1646.5" y="2267.2"><tspan x="1646.5">runtime</tspan><tspan x="1646.5" dy="16">writeHeapBits</tspan><tspan x="1646.5" dy="16">flush</tspan><tspan x="1646.5" dy="16">0.08s (0.71%)</tspan></text></g>
<g id="n72" class="node"><rect x="611" y="2392" width="129" height="84" fill="#edecea" stroke="#b2ac9f"/><text class="f10" x="675.5" y="2409.1"><tspan x="675.5">runtime</tspan><tspan x="675.5" dy="14.6">(*unwinder)</tspan><tspan x="675.5" dy="14.6">resolveInternal</tspan><tspan x="675.5" dy="14.6">0.05s (0.44%)</tspan><tspan x="675.5" dy="14.6">of 0.24s (2.13%)</tspan></text></g>
<g id="n73" class="node"><rect x="765" y="2404" width="125" height="59" fill="#edecec" stroke="#b2b1ae"/><text class="f11" x="827.5" y="2422.2"><tspan x="827.5">runtime</tspan><tspan x="827.5" dy="16">findfunc</tspan><tspan x="827.5" dy="16">0.06s (0.53%)</tspan></text></g>
<g id="n74" class="node"><rect x="1260" y="2393" width="154" height="81" fill="#edecea" stroke="#b2ab9e"/><text class="f12" x="1337" y="2412.4"><tspan x="1337">runtime</tspan><tspan x="1337" dy="17.5">scanobject</tspan><tspan x="1337" dy="17.5">0.14s (1.24%)</tspan><tspan x="1337" dy="17.5">of 0.26s (2.30%)</tspan></text></g>
<g id="n75" class="node"><rect x="1438" y="2409" width="118" height="49" fill="#edeceb" stroke="#b2afa6"/><text class="f8" x="1497" y="2425.1"><tspan x="1497">runtime</tspan><tspan x="1497" dy="11.8">futexwakeup</tspan><tspan x="1497" dy="11.8">0 of 0.15s (1.33%)</tspan></text></g>
<g id="n76" class="node"><rect x="496" y="2544" width="154" height="80" fill="#edebe8" stroke="#b2a48d"/><text class="f12" x="573" y="2562.9"><tspan x="573">runtime</tspan><tspan x="573" dy="17.5">pcvalue</tspan><tspan x="573" dy="17.5">0.17s (1.51%)</tspan><tspan x="573" dy="17.5">of 0.47s (4.17%)</tspan></text></g>
<g id="n77" class="node"><rect x="1273" y="2549" width="129" height="70" fill="#edecec" stroke="#b2b1ae"/><text class="f10" x="1337.5" y="2566.4"><tspan x="1337.5">runtime</tspan><tspan x="1337.5" dy="14.6">findObject</tspan><tspan x="1337.5" dy="14.6">0.05s (0.44%)</tspan><tspan x="1337.5" dy="14.6">of 0.06s (0.53%)</tspan></text></g>
<g id="n78" class="node"><rect x="1431" y="2552" width="132" height="63" fill="#edeceb" stroke="#b2afa6"/><text class="f12" x="1497" y="2571.1"><tspan x="1497">runtime</tspan><tspan x="1497" dy="17.5">futex</tspan><tspan x="1497" dy="17.5">0.15s (1.33%)</tspan></text></g>
<g id="n79" class="node"><rect x="496" y="2714" width="154" height="80" fill="#edecea" stroke="#b2ac9f"/><text class="f12" x="573" y="2732.9"><tspan x="573">runtime</tspan><tspan x="573" dy="17.5">step</tspan><tspan x="573" dy="17.5">0.22s (1.95%)</tspan><tspan x="573" dy="17.5">of 0.24s (2.13%)</tspan></text></g>
<g id="n80" class="node"><rect x="674" y="2712" width="129" height="84" fill="#edecec" stroke="#b2b0aa"/><text class="f10" x="738.5" y="2729.1"><tspan x="738.5">runtime</tspan><tspan x="738.5" dy="14.6">funcInfo</tspan><tspan x="738.5" dy="14.6">entry</tspan><tspan x="738.5" dy="14.6">0.05s (0.44%)</tspan><tspan x="738.5" dy="14.6">of 0.10s (0.89%)</tspan></text></g>
</g>
<g id="edge-labels">
<text class="el" x="807" y="437">4.47s</text>
<text class="el" x="807" y="564">4.37s</text>
<text class="el" x="973" y="437">0.46s</text>
<text class="el" x="807" y="789">2.33s</text>
<text class="el" x="894" y="715">0.60s</text>
<text class="el" x="1001" y="716">0.63s</text>
<text class="el" x="1335" y="789">0.07s</text>
<text class="el" x="1467" y="716">0.19s</text>
<text class="el" x="2021" y="715">0.14s</text>
<text class="el" x="2551" y="1181">0.04s</text>
<text class="el" x="499" y="1181">0.26s</text>
<text class="el" x="859" y="862">0.42s</text>
<text class="el" x="975" y="861">0.61s</text>
<text class="el" x="1054" y="861">0.18s</text>
<text class="el" x="1136" y="861">0.02s</text>
<text class="el" x="1649" y="862">0.16s</text>
<text class="el" x="1928" y="861">1.79s</text>
<text class="el" x="2090" y="861">2s</text>
<text class="el" x="807" y="1013">3.35s</text>
<text class="el" x="1136" y="1013">0.12s</text>
<text class="el" x="1239" y="1013">0.05s</text>
<text class="el" x="1402" y="1013">0.02s</text>
<text class="el" x="1928" y="1013">1.53s</text>
<text class="el" x="2090" y="1013">1.53s</text>
<text class="el" x="2173" y="1013">0.39s</text>
<text class="el mid" x="1807" y="1082">0.10s</text>
<text class="el mid" x="1807" y="1102">(inline)</text>
<text class="el mid" x="2120" y="1171">1.29s</text>
<text class="el mid" x="2120" y="1192">(inline)</text>
<text class="el" x="2195" y="1181">0.13s</text>
<text class="el" x="1928" y="1181">1.51s</text>
<text class="el" x="867" y="1181">0.61s</text>
<text class="el" x="980" y="1181">0.41s</text>
<text class="el" x="1111" y="1181">0.29s</text>
<text class="el" x="775" y="1267">2.03s</text>
<text class="el" x="2457" y="1268">0.05s</text>
<text class="el" x="906" y="1343">0.59s</text>
<text class="el" x="1112" y="1343">0.06s</text>
<text class="el" x="1182" y="1343">0.24s</text>
<text class="el" x="1579" y="1343">0.02s</text>
<text class="el" x="1693" y="1343">0.04s</text>
<text class="el" x="1766" y="1343">0.02s</text>
<text class="el" x="1928" y="1343">1.49s</text>
<text class="el" x="2087" y="1343">1.39s</text>
<text class="el" x="2239" y="1343">0.05s</text>
<text class="el" x="2653" y="1343">1.58s</text>
<text class="el" x="1248" y="1420">0.02s</text>
<text class="el" x="1523" y="1420">0.04s</text>
<text class="el" x="2381" y="1420">0.21s</text>
<text class="el mid" x="1979" y="1495">1.47s</text>
<text class="el mid" x="1979" y="1515">(inline)</text>
<text class="el mid" x="2081" y="1495">1.24s</text>
<text class="el mid" x="2081" y="1515">(inline)</text>
<text class="el" x="2142" y="1505">0.07s</text>
<text class="el" x="2325" y="1505">0.03s</text>
<text class="el" x="2653" y="1505">1.55s</text>
<text class="el" x="544" y="1505">0.06s</text>
<text class="el" x="633" y="1505">0.09s</text>
<text class="el" x="718" y="1505">0.02s</text>
<text class="el" x="794" y="1505">1.97s</text>
<text class="el" x="937" y="1505">0.50s</text>
<text class="el" x="1059" y="1505">0.27s</text>
<text class="el" x="1158" y="1505">0.21s</text>
<text class="el" x="1358" y="1505">0.25s</text>
<text class="el" x="1788" y="1505">0.03s</text>
<text class="el" x="530" y="1667">0.05s</text>
<text class="el" x="811" y="1667">1.96s</text>
<text class="el" x="930" y="1667">0.14s</text>
<text class="el" x="998" y="1667">0.47s</text>
<text class="el" x="1195" y="1667">0.02s</text>
<text class="el" x="1281" y="1667">0.23s</text>
<text class="el" x="1445" y="1667">0.05s</text>
<text class="el" x="1694" y="1667">0.02s</text>
<text class="el" x="1783" y="1667">0.03s</text>
<text class="el" x="1931" y="1667">0.02s</text>
<text class="el" x="1996" y="1667">2.70s</text>
<text class="el" x="2157" y="1667">0.02s</text>
<text class="el" x="2251" y="1667">0.05s</text>
<text class="el" x="2653" y="1667">1.51s</text>
<text class="el" x="579" y="1875">0.64s</text>
<text class="el" x="1358" y="1875">0.03s</text>
<text class="el" x="1712" y="1875">0.14s</text>
<text class="el" x="1818" y="1875">0.17s</text>
<text class="el" x="1996" y="1875">2.55s</text>
<text class="el" x="2287" y="1875">0.44s</text>
<text class="el" x="2599" y="1875">1.25s</text>
<text class="el" x="2691" y="1875">0.08s</text>
<text class="el" x="579" y="2027">0.29s</text>
<text class="el" x="1418" y="2027">0.28s</text>
<text class="el" x="1508" y="2027">0.15s</text>
<text class="el" x="1649" y="2027">0.14s</text>
<text class="el" x="1791" y="2027">0.12s</text>
<text class="el mid" x="1951" y="2018">0.15s</text>
<text class="el mid" x="1951" y="2038">(inline)</text>
<text class="el" x="1996" y="2027">2.60s</text>
<text class="el" x="2358" y="2027">1.22s</text>
<text class="el" x="691" y="2128">0.22s</text>
<text class="el" x="1055" y="2219">0.02s</text>
<text class="el" x="1383" y="2219">0.28s</text>
<text class="el" x="1466" y="2219">0.15s</text>
<text class="el" x="1637" y="2219">0.07s</text>
<text class="el" x="579" y="2362">0.25s</text>
<text class="el" x="689" y="2362">0.19s</text>
<text class="el" x="771" y="2362">0.05s</text>
<text class="el" x="1345" y="2362">0.21s</text>
<text class="el" x="1501" y="2362">0.15s</text>
<text class="el" x="638" y="2514">0.19s</text>
<text class="el" x="1343" y="2514">0.05s</text>
<text class="el" x="1503" y="2514">0.15s</text>
<text class="el" x="579" y="2672">0.22s</text>
<text class="el mid" x="714" y="2663">0.08s</text>
<text class="el mid" x="714" y="2683">(inline)</text>
</g>
</svg>
